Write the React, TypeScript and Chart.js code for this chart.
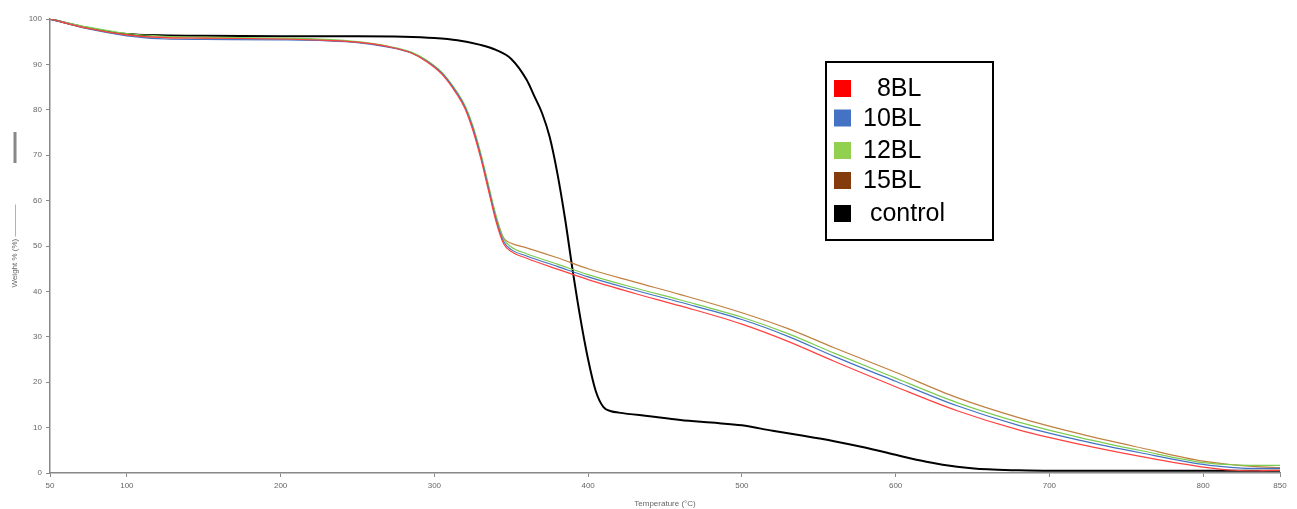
import React, { useEffect, useRef } from "react";
import { Chart, registerables } from "chart.js";

Chart.register(...registerables);

// Temperature grid (°C) for the four BL samples
const tempBL = [50, 75, 100, 125, 150, 200, 230, 250, 270, 285, 295, 305, 315, 320, 325, 330, 335, 340, 345, 350, 360, 380, 400, 430, 460, 500, 530, 560, 600, 640, 680, 720, 760, 800, 820, 835, 850];
const weight8BL = [100, 97.9, 96.5, 95.9, 95.8, 95.6, 95.3, 94.9, 93.9, 92.5, 90.6, 87.8, 83.2, 80.2, 75.5, 69.5, 62.5, 55.5, 50.5, 48.8, 47.3, 44.9, 42.6, 39.6, 36.8, 32.8, 29.0, 24.6, 19.0, 13.7, 9.5, 6.3, 3.6, 1.3, 0.6, 0.5, 0.6];
const weight10BL = [100, 97.8, 96.3, 95.6, 95.5, 95.4, 95.2, 94.8, 93.8, 92.5, 90.7, 88, 83.5, 80.5, 76, 70, 63, 56, 51, 49.2, 47.8, 45.5, 43.2, 40.3, 37.6, 33.8, 30.1, 25.7, 20.2, 14.8, 10.5, 7.2, 4.4, 1.9, 1.2, 1.0, 1.0];
const weight12BL = [100, 98.2, 96.8, 96.2, 96.0, 95.8, 95.5, 95.0, 94.0, 92.7, 90.9, 88.2, 83.8, 80.9, 76.5, 70.6, 63.7, 56.8, 51.6, 49.8, 48.3, 46.0, 43.7, 40.8, 38.1, 34.3, 30.7, 26.4, 20.9, 15.5, 11.2, 7.8, 4.9, 2.3, 1.8, 1.7, 1.7];
const weight15BL = [100, 98.0, 96.5, 95.9, 95.8, 95.6, 95.3, 94.9, 93.9, 92.6, 90.8, 88.1, 83.6, 80.6, 76.2, 70.3, 63.4, 56.6, 51.8, 50.6, 49.6, 47.4, 45.0, 42.1, 39.3, 35.3, 31.8, 27.6, 22.2, 16.6, 12.2, 8.6, 5.5, 2.6, 1.8, 1.4, 1.2];

// Control sample
const tempControl = [50, 75, 100, 150, 200, 250, 280, 300, 315, 330, 340, 350, 360, 365, 370, 375, 380, 385, 390, 395, 400, 405, 410, 415, 420, 440, 460, 480, 500, 520, 540, 560, 580, 600, 620, 640, 660, 680, 700, 750, 800, 850];
const weightControl = [100, 98, 96.7, 96.3, 96.2, 96.2, 96.1, 95.8, 95.3, 94.3, 93.2, 91.2, 86.6, 83, 79.3, 74, 66, 56, 44.5, 34, 25, 18, 14.5, 13.6, 13.3, 12.5, 11.7, 11.1, 10.5, 9.3, 8.2, 7.0, 5.6, 4.0, 2.5, 1.4, 0.8, 0.6, 0.5, 0.5, 0.5, 0.5];

const xTicks = [50, 100, 200, 300, 400, 500, 600, 700, 800, 850];
const seriesLabels = ["  8BL", "10BL", "12BL", "15BL", " control"];
const lineColors = ["#ff4040", "#4472c4", "#7ccc50", "#c08040", "#000000"];
const swatchColors = ["#ff0000", "#4472c4", "#92d050", "#843c0c", "#000000"];

const toXY = (xs: number[], ys: number[]) => xs.map((x, i) => ({ x, y: ys[i] }));

const boxLegend = {
  id: "boxLegend",
  afterDraw(chart: any) {
    const ctx = chart.ctx;
    ctx.save();
    ctx.strokeStyle = "#000";
    ctx.lineWidth = 2;
    ctx.strokeRect(826, 62, 167, 178);
    const rows = [88.5, 118, 150.5, 180.5, 213.5];
    ctx.font = "25px 'Liberation Sans', Arial, sans-serif";
    ctx.textBaseline = "middle";
    ctx.textAlign = "left";
    seriesLabels.forEach((lab, i) => {
      ctx.fillStyle = swatchColors[i];
      ctx.fillRect(834, rows[i] - 8.5, 17, 17);
      ctx.fillStyle = "#000";
      ctx.fillText(lab, 863, rows[i] + 1);
    });
    // gray sample bar next to the y-axis title
    ctx.fillStyle = "#888";
    ctx.fillRect(13.5, 132, 3, 31);
    ctx.restore();
  },
};

export default function App() {
  const ref = useRef<HTMLCanvasElement>(null);
  useEffect(() => {
    document.body.style.margin = "0";
    const series = [weight8BL, weight10BL, weight12BL, weight15BL];
    const datasets: any[] = series.map((w, i) => ({
      label: seriesLabels[i],
      data: toXY(tempBL, w),
      borderColor: lineColors[i],
      borderWidth: 1.2,
      pointRadius: 0,
      cubicInterpolationMode: "monotone",
      fill: false,
    }));
    datasets.push({
      label: seriesLabels[4],
      data: toXY(tempControl, weightControl),
      borderColor: lineColors[4],
      borderWidth: 2,
      pointRadius: 0,
      cubicInterpolationMode: "monotone",
      fill: false,
    });
    const tickFont = { family: "'Liberation Sans', Arial, sans-serif", size: 8 };
    const chart = new Chart(ref.current!, {
      type: "line",
      data: { datasets },
      options: {
        animation: false,
        responsive: false,
        maintainAspectRatio: false,
        layout: { padding: { left: 0, top: 19, right: 17, bottom: 0 } },
        plugins: { legend: { display: false }, tooltip: { enabled: false } },
        scales: {
          x: {
            type: "linear",
            min: 50,
            max: 850,
            afterBuildTicks: (s: any) => {
              s.ticks = xTicks.map((v) => ({ value: v }));
            },
            afterFit: (s: any) => {
              s.height = 36;
            },
            grid: { drawOnChartArea: false, drawTicks: true, tickLength: 4, color: "#888" },
            border: { color: "#888", width: 1.5 },
            ticks: { color: "#666", font: tickFont, padding: 4, maxRotation: 0, autoSkip: false },
            title: { display: true, text: "Temperature (°C)", color: "#666", font: tickFont, padding: { top: 4, bottom: 0 } },
          },
          y: {
            min: 0,
            max: 100,
            ticks: { stepSize: 10, color: "#666", font: tickFont, padding: 4 },
            afterFit: (s: any) => {
              s.width = 50;
            },
            grid: { drawOnChartArea: false, drawTicks: true, tickLength: 4, color: "#888" },
            border: { color: "#888", width: 1.5 },
            title: { display: true, text: "Weight % (%) ————", color: "#666", font: tickFont, padding: { top: 10, bottom: 0 } },
          },
        },
      },
      plugins: [boxLegend],
    });
    return () => chart.destroy();
  }, []);
  return (
    <div style={{ width: 1297, height: 509, position: "relative", background: "#fff" }}>
      <canvas ref={ref} width={1297} height={509} style={{ display: "block" }} />
    </div>
  );
}
